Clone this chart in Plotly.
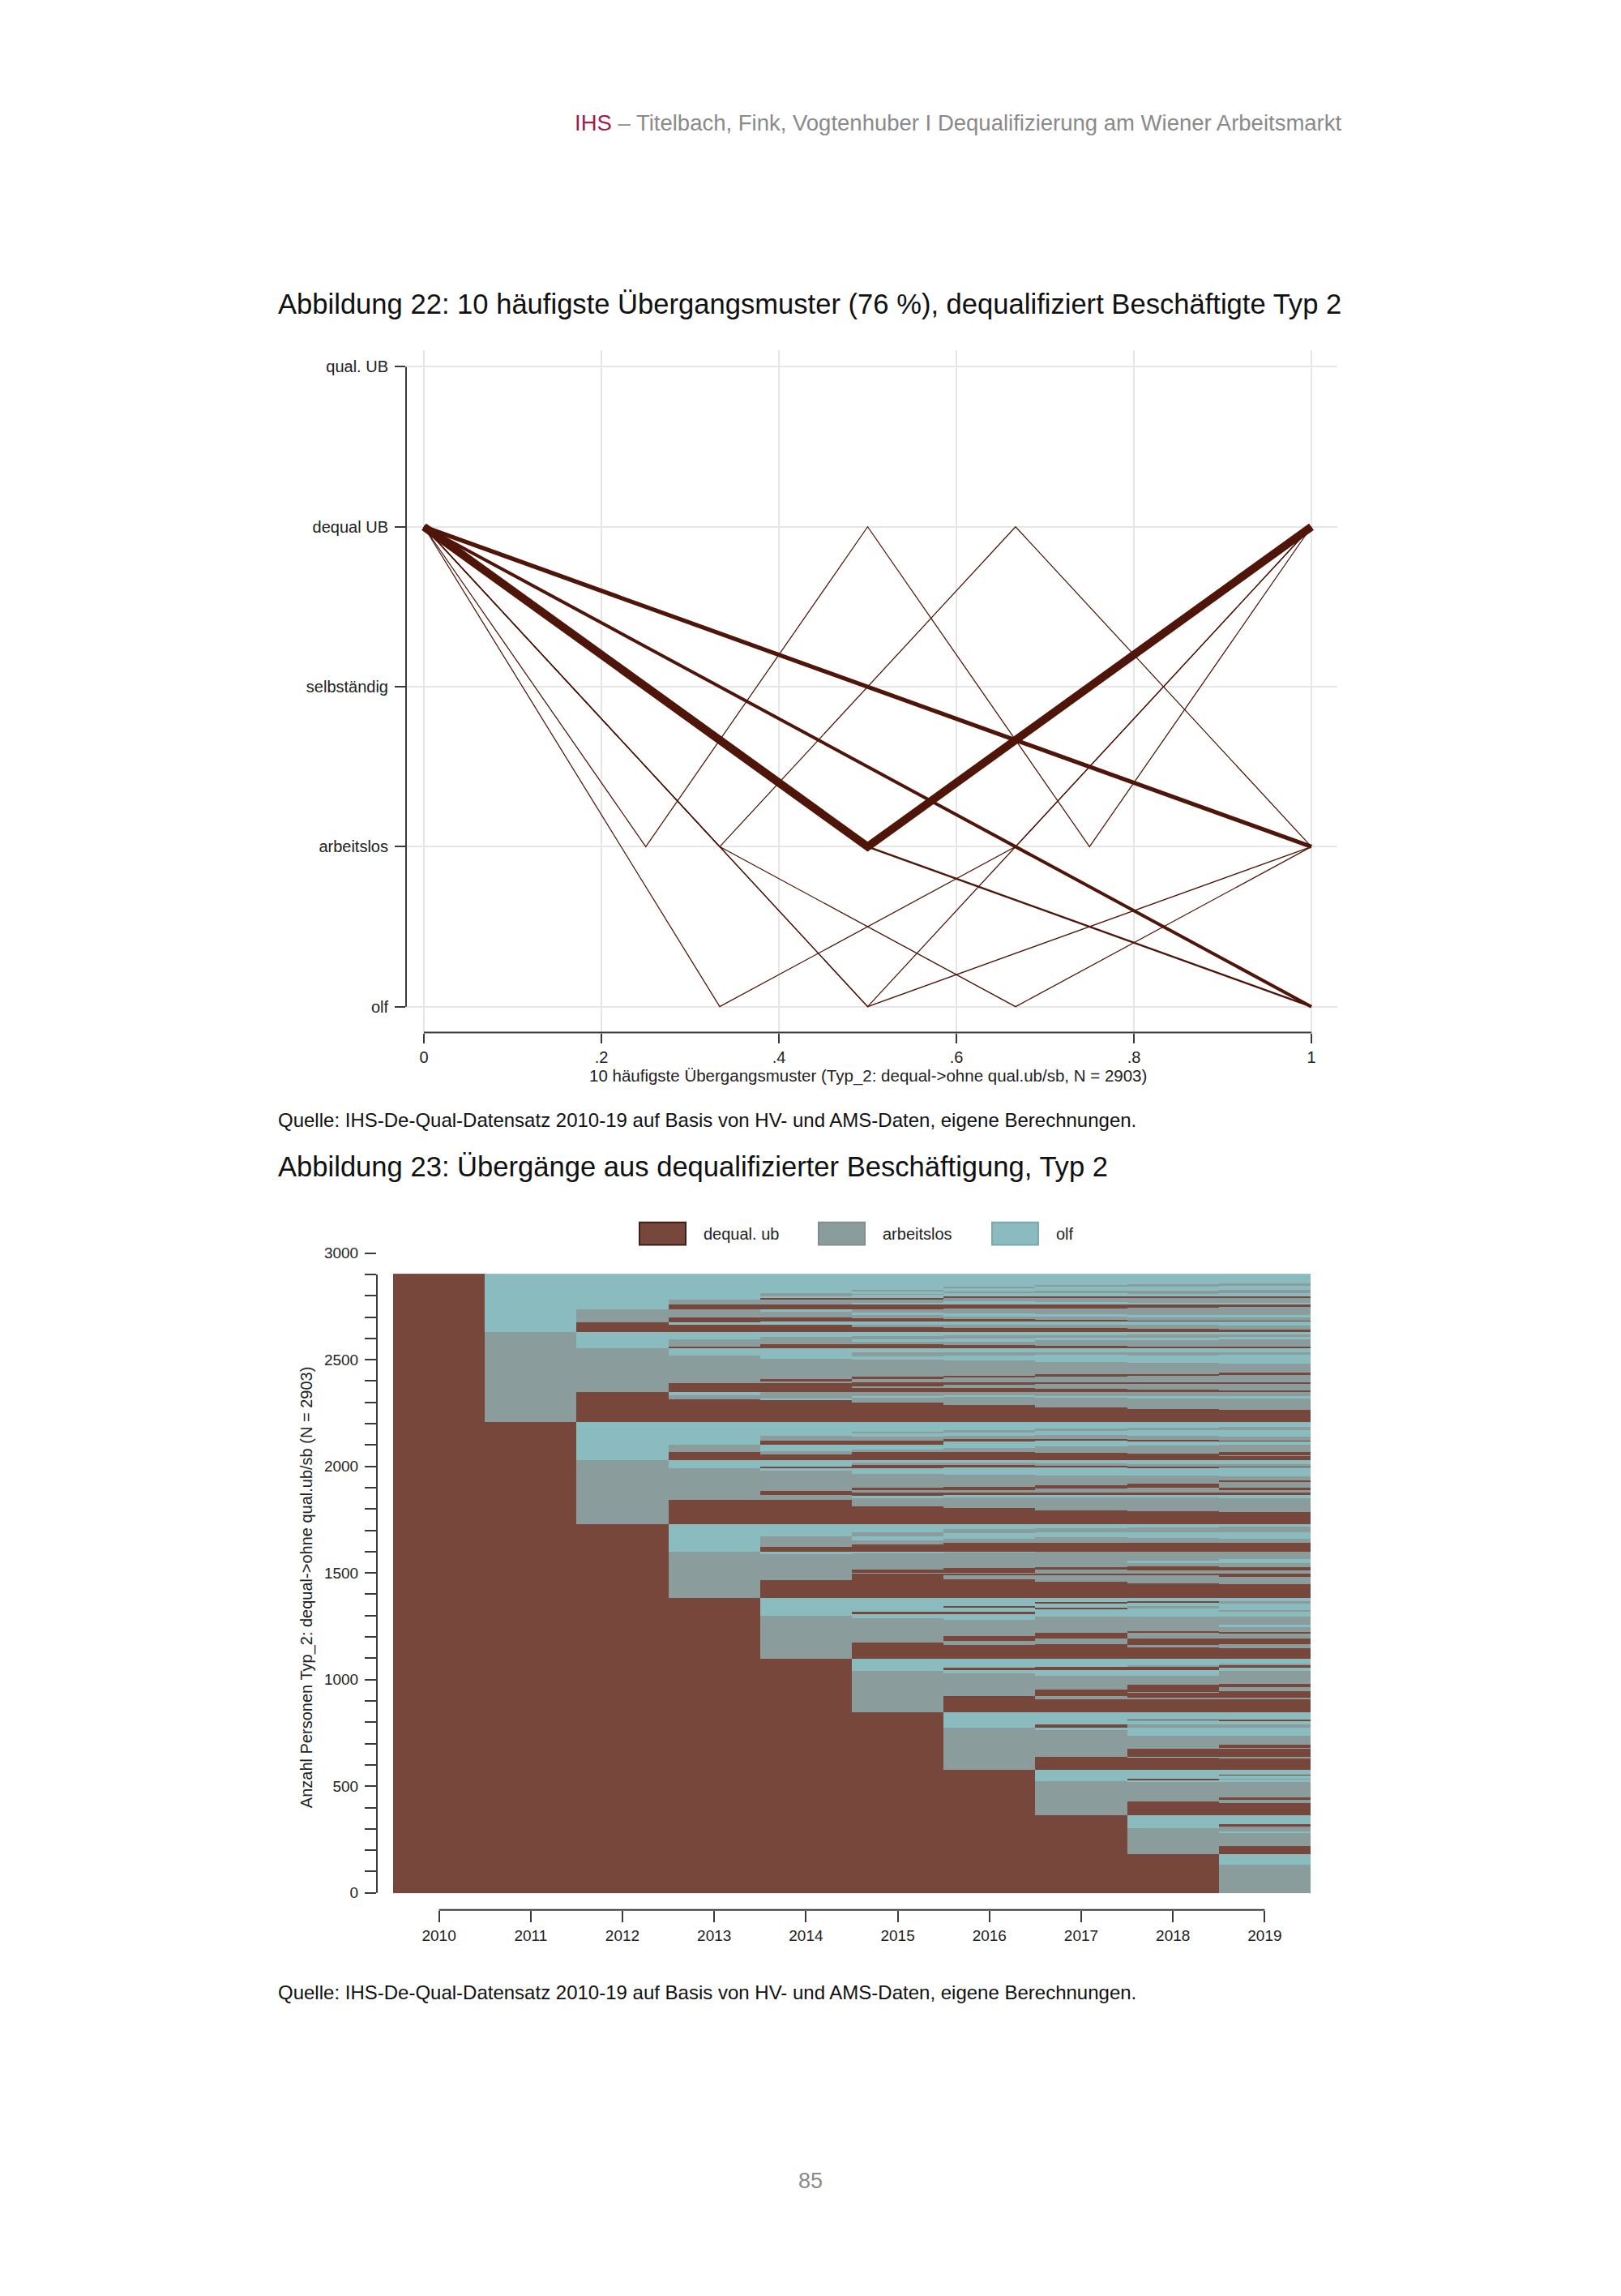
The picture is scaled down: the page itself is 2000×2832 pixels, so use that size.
import numpy as np
import plotly.graph_objects as go

W, H = 2000, 2832

# ---------------- Abbildung 22: 10 most frequent transition patterns ----------------
level_vals = [1, 2, 3, 4, 5]
level_text = ["olf", "arbeitslos", "selbständig", "dequal UB", "qual. UB"]
x_tickvals = [0, 0.2, 0.4, 0.6, 0.8, 1]
x_ticktext = ["0", ".2", ".4", ".6", ".8", "1"]

# state level (5=qual UB, 4=dequal UB, 3=selbständig, 2=arbeitslos, 1=olf)
pat_a_x = [0, 0.5, 1];            pat_a_y = [4, 2, 4]
pat_b_x = [0, 1];                 pat_b_y = [4, 2]
pat_c_x = [0, 1];                 pat_c_y = [4, 1]
pat_d_x = [0, 0.5, 1];            pat_d_y = [4, 2, 1]
pat_e_x = [0, 0.5, 1];            pat_e_y = [4, 1, 2]
pat_f_x = [0, 0.5, 1];            pat_f_y = [4, 1, 4]
pat_g_x = [0, 1/3, 2/3, 1];       pat_g_y = [4, 2, 4, 2]
pat_h_x = [0, 1/3, 2/3, 1];       pat_h_y = [4, 2, 1, 2]
pat_i_x = [0, 1/3, 2/3, 1];       pat_i_y = [4, 1, 2, 4]
pat_j_x = [0, 0.25, 0.5, 0.75, 1]; pat_j_y = [4, 2, 4, 2, 4]

patterns_x = [pat_a_x, pat_b_x, pat_c_x, pat_d_x, pat_e_x, pat_f_x, pat_g_x, pat_h_x, pat_i_x, pat_j_x]
patterns_y = [pat_a_y, pat_b_y, pat_c_y, pat_d_y, pat_e_y, pat_f_y, pat_g_y, pat_h_y, pat_i_y, pat_j_y]
pattern_width = [10, 5.2, 4.0, 2.4, 1.3, 1.3, 1.25, 1.25, 1.25, 1.25]

# ---------------- Abbildung 23: sequence index plot (segments: top value, state) ----------------
years = [2010, 2011, 2012, 2013, 2014, 2015, 2016, 2017, 2018, 2019]
n_persons = 2903
state_names = ["dequal. ub", "arbeitslos", "olf"]

y2010 = [(2903, "D")]
y2011 = [(2903, "O"), (2630, "A"), (2207, "D")]
y2012 = [(2903, "O"), (2737, "A"), (2674, "D"), (2630, "O"), (2555, "A"), (2347, "D"),
         (2207, "O"), (2030, "A"), (1730, "D")]
y2013 = [(2903, "O"), (2783, "A"), (2760, "D"), (2737, "A"), (2697, "D"), (2676, "O"), (2665, "D"),
         (2630, "O"), (2596, "A"), (2563, "D"), (2555, "O"), (2520, "A"), (2391, "D"), (2347, "O"),
         (2333, "A"), (2314, "D"), (2207, "O"), (2101, "A"), (2066, "D"), (2030, "O"), (1992, "A"),
         (1844, "D"), (1731, "O"), (1601, "A"), (1383, "D")]
y2014 = [(2903, "O"), (2813, "A"), (2798, "O"), (2788, "D"), (2780, "A"), (2760, "D"), (2737, "O"),
         (2725, "A"), (2697, "D"), (2678, "O"), (2665, "D"),
         (2630, "O"), (2606, "A"), (2571, "D"), (2555, "O"), (2505, "A"), (2409, "D"), (2399, "A"),
         (2391, "D"), (2347, "A"), (2318, "O"), (2309, "D"),
         (2207, "O"), (2144, "A"), (2119, "D"), (2103, "O"), (2073, "A"), (2057, "D"),
         (2030, "O"), (2000, "D"), (1992, "O"), (1980, "A"), (1886, "D"), (1866, "A"), (1844, "D"),
         (1731, "O"), (1674, "A"), (1623, "D"), (1601, "O"), (1588, "A"), (1466, "D"),
         (1383, "O"), (1301, "A"), (1099, "D")]
y2015 = [(2903, "O"), (2826, "A"), (2818, "O"), (2810, "A"), (2803, "O"), (2788, "D"), (2780, "A"),
         (2768, "O"), (2760, "D"), (2737, "A"), (2720, "O"), (2710, "A"), (2695, "D"), (2678, "O"),
         (2665, "A"), (2653, "D"),
         (2630, "O"), (2611, "A"), (2596, "O"), (2586, "A"), (2571, "D"), (2555, "O"), (2533, "A"),
         (2514, "O"), (2501, "A"), (2419, "D"), (2409, "A"), (2394, "D"), (2375, "A"), (2366, "D"),
         (2347, "A"), (2331, "O"), (2321, "A"), (2299, "D"),
         (2207, "O"), (2164, "A"), (2154, "O"), (2139, "A"), (2122, "D"), (2103, "O"), (2078, "A"),
         (2066, "D"),
         (2030, "O"), (2018, "A"), (2005, "D"), (1992, "O"), (1964, "A"), (1901, "D"), (1889, "A"),
         (1876, "D"), (1863, "O"), (1851, "A"), (1813, "D"),
         (1731, "O"), (1693, "A"), (1674, "O"), (1655, "A"), (1636, "D"), (1601, "O"), (1592, "A"),
         (1516, "D"), (1503, "A"), (1497, "D"),
         (1383, "O"), (1320, "D"), (1307, "O"), (1288, "A"), (1175, "D"), (1099, "O"), (1042, "A"),
         (846, "D")]
y2016 = [(2903, "O"), (2842, "A"), (2836, "O"), (2821, "A"), (2813, "O"), (2796, "D"), (2788, "A"),
         (2773, "O"), (2760, "D"), (2741, "A"), (2716, "O"), (2703, "A"), (2691, "D"), (2678, "O"),
         (2665, "A"), (2649, "D"),
         (2630, "O"), (2614, "A"), (2599, "O"), (2583, "A"), (2568, "D"), (2555, "O"), (2535, "A"),
         (2520, "O"), (2495, "A"), (2425, "D"), (2417, "A"), (2396, "D"), (2381, "A"), (2369, "D"),
         (2347, "A"), (2333, "O"), (2324, "A"), (2287, "D"),
         (2207, "O"), (2169, "A"), (2160, "O"), (2144, "A"), (2129, "D"), (2116, "O"), (2088, "A"),
         (2066, "D"),
         (2030, "O"), (2018, "A"), (2005, "D"), (1995, "O"), (1962, "A"), (1904, "D"), (1889, "A"),
         (1879, "D"), (1866, "O"), (1853, "A"), (1807, "D"),
         (1731, "O"), (1706, "A"), (1687, "O"), (1661, "A"), (1642, "D"), (1601, "O"), (1596, "A"),
         (1525, "D"), (1503, "A"), (1497, "D"), (1491, "A"), (1472, "D"),
         (1383, "O"), (1345, "D"), (1339, "O"), (1320, "D"), (1307, "O"), (1282, "A"), (1206, "D"),
         (1181, "A"), (1162, "D"),
         (1099, "O"), (1055, "D"), (1047, "O"), (1029, "A"), (922, "D"), (846, "O"), (777, "A"),
         (577, "D")]
y2017 = [(2903, "O"), (2849, "A"), (2841, "O"), (2823, "A"), (2811, "O"), (2796, "D"), (2788, "A"),
         (2770, "O"), (2758, "D"), (2741, "A"), (2712, "O"), (2702, "A"), (2687, "D"), (2678, "O"),
         (2665, "A"), (2647, "D"),
         (2630, "O"), (2615, "A"), (2602, "O"), (2590, "A"), (2566, "D"), (2555, "O"), (2533, "A"),
         (2523, "O"), (2489, "A"), (2432, "D"), (2422, "A"), (2396, "D"), (2386, "A"), (2362, "D"),
         (2347, "A"), (2331, "O"), (2321, "A"), (2278, "D"),
         (2207, "O"), (2179, "A"), (2167, "O"), (2148, "A"), (2129, "D"), (2119, "O"), (2093, "A"),
         (2063, "D"),
         (2030, "O"), (2015, "A"), (2002, "D"), (1995, "O"), (1958, "A"), (1911, "D"), (1895, "A"),
         (1879, "D"), (1866, "O"), (1853, "A"), (1794, "D"),
         (1731, "O"), (1712, "A"), (1693, "O"), (1668, "A"), (1642, "D"), (1601, "A"), (1529, "D"),
         (1516, "A"), (1497, "D"), (1491, "A"), (1459, "D"),
         (1383, "O"), (1364, "D"), (1358, "O"), (1339, "D"), (1330, "O"), (1295, "A"), (1219, "D"),
         (1194, "A"), (1168, "D"),
         (1099, "O"), (1061, "D"), (1045, "O"), (1017, "A"), (954, "D"), (922, "A"), (909, "D"),
         (846, "O"), (789, "D"), (777, "O"), (764, "A"), (640, "D"), (577, "O"), (524, "A"),
         (366, "D")]
y2018 = [(2903, "O"), (2854, "A"), (2844, "O"), (2823, "A"), (2808, "O"), (2796, "D"), (2788, "A"),
         (2767, "O"), (2758, "D"), (2745, "A"), (2710, "O"), (2700, "A"), (2684, "D"), (2678, "O"),
         (2665, "A"), (2644, "D"),
         (2630, "O"), (2619, "A"), (2602, "O"), (2593, "A"), (2563, "D"), (2555, "O"), (2535, "A"),
         (2520, "O"), (2485, "A"), (2434, "D"), (2425, "A"), (2396, "D"), (2386, "A"), (2359, "D"),
         (2347, "A"), (2331, "O"), (2318, "A"), (2270, "D"),
         (2207, "O"), (2182, "A"), (2169, "O"), (2144, "A"), (2126, "D"), (2116, "O"), (2097, "A"),
         (2059, "D"),
         (2030, "O"), (2012, "A"), (2000, "D"), (1992, "O"), (1958, "A"), (1920, "D"), (1899, "A"),
         (1879, "D"), (1866, "O"), (1853, "A"), (1790, "D"),
         (1731, "O"), (1714, "A"), (1693, "O"), (1664, "A"), (1642, "D"), (1601, "A"), (1560, "O"),
         (1548, "A"), (1533, "D"), (1512, "A"), (1497, "D"), (1489, "A"), (1453, "D"),
         (1383, "O"), (1368, "D"), (1360, "O"), (1345, "A"), (1335, "O"), (1295, "A"), (1229, "D"),
         (1219, "A"), (1194, "D"), (1162, "A"), (1153, "D"),
         (1099, "O"), (1067, "A"), (1061, "D"), (1047, "O"), (1017, "A"), (976, "D"), (944, "A"),
         (939, "D"), (916, "A"), (909, "D"),
         (846, "O"), (815, "D"), (808, "O"), (789, "A"), (777, "O"), (739, "A"), (678, "D"),
         (640, "O"), (635, "D"),
         (577, "O"), (537, "D"), (529, "O"), (522, "A"), (430, "D"), (366, "O"), (303, "A"),
         (183, "D")]
y2019 = [(2903, "O"), (2859, "A"), (2846, "O"), (2826, "A"), (2811, "O"), (2798, "D"), (2791, "A"),
         (2767, "O"), (2760, "D"), (2747, "A"), (2710, "O"), (2697, "A"), (2684, "D"), (2678, "O"),
         (2662, "A"), (2641, "D"),
         (2630, "O"), (2619, "A"), (2606, "O"), (2596, "A"), (2563, "D"), (2555, "O"), (2533, "A"),
         (2523, "O"), (2482, "A"), (2438, "D"), (2429, "A"), (2396, "D"), (2386, "A"), (2356, "D"),
         (2347, "A"), (2331, "O"), (2318, "A"), (2264, "D"),
         (2207, "O"), (2184, "A"), (2169, "O"), (2141, "A"), (2122, "D"), (2116, "O"), (2101, "A"),
         (2066, "D"), (2053, "A"), (2047, "D"),
         (2030, "O"), (2009, "A"), (2000, "D"), (1995, "O"), (1954, "A"), (1933, "D"), (1927, "A"),
         (1901, "D"), (1889, "A"), (1876, "D"), (1866, "O"), (1851, "A"), (1785, "D"),
         (1731, "O"), (1718, "A"), (1693, "O"), (1661, "A"), (1642, "D"), (1601, "A"), (1567, "O"),
         (1548, "A"), (1529, "D"), (1512, "A"), (1497, "D"), (1484, "A"), (1447, "D"),
         (1383, "O"), (1370, "A"), (1358, "O"), (1326, "A"), (1320, "O"), (1295, "A"), (1257, "O"),
         (1247, "A"), (1225, "D"), (1216, "A"), (1194, "D"), (1168, "A"), (1149, "D"),
         (1099, "O"), (1074, "A"), (1067, "D"), (1057, "O"), (1042, "A"), (979, "D"), (966, "A"),
         (947, "D"), (918, "A"), (909, "D"),
         (846, "O"), (815, "D"), (805, "O"), (789, "A"), (777, "O"), (739, "A"), (695, "D"),
         (682, "A"), (676, "D"), (640, "A"), (633, "D"),
         (577, "O"), (556, "D"), (550, "O"), (537, "A"), (531, "O"), (522, "A"), (448, "D"),
         (438, "A"), (423, "D"), (366, "O"), (322, "D"), (312, "A"), (291, "O"), (282, "A"),
         (221, "D"), (183, "O"), (133, "A")]

year_segments = [y2010, y2011, y2012, y2013, y2014, y2015, y2016, y2017, y2018, y2019]

y2_tickvals = list(range(0, 3001, 100))
y2_ticktext = [str(v) if v % 500 == 0 else "" for v in y2_tickvals]

# ---------------- styles ----------------
LINE_COL = "#4e1508"
GRID_COL = "#e6e6e6"
AX_COL = "#3a3a3a"
C_DEQ, C_AL, C_OLF = "#76473a", "#8a9c9c", "#8abbbe"
PAGE_FONT = "Liberation Sans, Arial, sans-serif"
CHART_FONT = "Liberation Sans, Arial, sans-serif"

DX = -10  # horizontal page offset compensation


def px_x(p):
    return (p + DX) / W


def px_y(p):
    return 1 - p / H


fig = go.Figure()

# Figure 22 lines (thin first, thick on top)
order = sorted(range(len(patterns_x)), key=lambda i: pattern_width[i])
for i in order:
    fig.add_trace(go.Scatter(
        x=patterns_x[i], y=patterns_y[i], mode="lines",
        line=dict(color=LINE_COL, width=pattern_width[i]),
        xaxis="x", yaxis="y", hoverinfo="skip", showlegend=False))

# Figure 23 heatmap
code = {"D": 0, "A": 1, "O": 2}
rows = np.arange(n_persons) + 0.5
z = np.zeros((n_persons, len(years)))
for j, segs in enumerate(year_segments):
    for k, (top, st) in enumerate(segs):
        bottom = segs[k + 1][0] if k + 1 < len(segs) else 0
        z[(rows >= bottom) & (rows < top), j] = code[st]

fig.add_trace(go.Heatmap(
    x=years, y=rows, z=z, zmin=-0.5, zmax=2.5, showscale=False,
    colorscale=[[0, C_DEQ], [1/3, C_DEQ], [1/3, C_AL], [2/3, C_AL], [2/3, C_OLF], [1, C_OLF]],
    xaxis="x2", yaxis="y2", hoverinfo="skip", zsmooth=False))

# ---------------- axes geometry (pixels) ----------------
TY = -13  # vertical correction for Fig 22
x_unit = 1095.0
y_unit = 198.0
ax1_left, ax1_right = 503, 1652
ax1_top, ax1_bottom = 428 + TY, 1273 + TY
lvl5_px, lvl1_px = 449 + TY, 1241 + TY
x1_range = [(ax1_left - 525) / x_unit, 1 + (ax1_right - 1620) / x_unit]
y1_range = [1 - (ax1_bottom - lvl1_px) / y_unit, 5 + (lvl5_px - ax1_top) / y_unit]

BY = -10  # vertical correction for Fig 23
col_w = 113.2
ppu = 0.264
ax2_left, ax2_right = 467, 1640
ax2_top, ax2_bottom = 1543 + BY, 2356 + BY
zero_px = 2335 + BY
x2_range = [2009.5 - (487 - ax2_left) / col_w, 2009.5 + (ax2_right - 487) / col_w]
y2_range = [-(ax2_bottom - zero_px) / ppu, 3000]

tick_font = dict(family=CHART_FONT, size=20, color="#222222")

fig.update_layout(
    width=W, height=H, margin=dict(l=0, r=0, t=0, b=0),
    paper_bgcolor="white", plot_bgcolor="white", showlegend=False,
    xaxis=dict(domain=[px_x(ax1_left), px_x(ax1_right)], range=x1_range,
               tickvals=x_tickvals, ticktext=x_ticktext, showgrid=True, gridcolor=GRID_COL,
               gridwidth=2, zeroline=False, showline=False, ticks="outside", ticklen=12,
               tickwidth=2, tickcolor=AX_COL, tickfont=tick_font, ticklabelstandoff=0,
               anchor="y", fixedrange=True),
    yaxis=dict(domain=[px_y(ax1_bottom), px_y(ax1_top)], range=y1_range,
               tickvals=level_vals, ticktext=level_text, showgrid=True, gridcolor=GRID_COL,
               gridwidth=2, zeroline=False, showline=False, ticks="outside", ticklen=13,
               tickwidth=2, tickcolor=AX_COL, tickfont=tick_font, ticklabelstandoff=4,
               anchor="x", fixedrange=True),
    xaxis2=dict(domain=[px_x(ax2_left), px_x(ax2_right)], range=x2_range,
                tickvals=years, ticktext=[str(y) for y in years], showgrid=False,
                zeroline=False, showline=False, ticks="outside", ticklen=14, tickwidth=2,
                tickcolor=AX_COL, tickfont=dict(family=CHART_FONT, size=19, color="#222222"),
                ticklabelstandoff=0, anchor="y2", fixedrange=True),
    yaxis2=dict(domain=[px_y(ax2_bottom), px_y(ax2_top)], range=y2_range,
                tickvals=y2_tickvals, ticktext=y2_ticktext, showgrid=False, zeroline=False,
                showline=False, ticks="outside", ticklen=14, tickwidth=2, tickcolor=AX_COL,
                tickfont=dict(family=CHART_FONT, size=19, color="#222222"),
                ticklabelstandoff=4, anchor="x2", fixedrange=True),
)

shapes = []
# axis lines Fig 22 (span from first to last tick, Stata style)
shapes.append(dict(type="line", xref="paper", yref="y", x0=px_x(ax1_left), x1=px_x(ax1_left),
                   y0=level_vals[0], y1=level_vals[-1], line=dict(color=AX_COL, width=2)))
shapes.append(dict(type="line", xref="x", yref="paper", x0=x_tickvals[0], x1=x_tickvals[-1],
                   y0=px_y(ax1_bottom), y1=px_y(ax1_bottom), line=dict(color=AX_COL, width=2)))
# axis lines Fig 23
shapes.append(dict(type="line", xref="paper", yref="y2", x0=px_x(ax2_left), x1=px_x(ax2_left),
                   y0=0, y1=2900, line=dict(color=AX_COL, width=2)))
shapes.append(dict(type="line", xref="x2", yref="paper", x0=years[0], x1=years[-1],
                   y0=px_y(ax2_bottom), y1=px_y(ax2_bottom), line=dict(color=AX_COL, width=2)))

# legend for Fig 23
LEG_Y = 1509
leg_boxes = [(791, C_DEQ, "#3b2018"), (1012, C_AL, "#7d8f8f"), (1226, C_OLF, "#7aa9ac")]
for (bx, fc, lc), name in zip(leg_boxes, state_names):
    shapes.append(dict(type="rect", xref="paper", yref="paper", x0=px_x(bx), x1=px_x(bx + 57),
                       y0=px_y(LEG_Y + 14), y1=px_y(LEG_Y - 14), fillcolor=fc,
                       line=dict(color=lc, width=2)))

annotations = []
for (bx, fc, lc), name in zip(leg_boxes, state_names):
    annotations.append(dict(xref="paper", yref="paper", x=px_x(bx + 77), y=px_y(LEG_Y),
                            text=name, showarrow=False, xanchor="left", yanchor="middle",
                            font=dict(family=CHART_FONT, size=20, color="#222222")))

# axis titles
annotations.append(dict(xref="x", yref="paper", x=0.5, y=px_y(1327 + TY),
                        text="10 häufigste Übergangsmuster (Typ_2: dequal->ohne qual.ub/sb, N = 2903)",
                        showarrow=False, xanchor="center", yanchor="middle",
                        font=dict(family=CHART_FONT, size=20.5, color="#222222")))
annotations.append(dict(xref="paper", yref="paper", x=px_x(380), y=px_y(1957 + BY),
                        text="Anzahl Personen Typ_2: dequal->ohne qual.ub/sb (N = 2903)",
                        showarrow=False, textangle=-90, xanchor="center", yanchor="middle",
                        font=dict(family=CHART_FONT, size=20, color="#222222")))

# page texts
annotations.append(dict(xref="paper", yref="paper", x=px_x(1660), y=px_y(134),
                        text="<span style='color:#a01e4c'>IHS</span> – Titelbach, Fink, Vogtenhuber I Dequalifizierung am Wiener Arbeitsmarkt",
                        showarrow=False, xanchor="right", yanchor="middle",
                        font=dict(family=PAGE_FONT, size=27.5, color="#8a8a8a")))
annotations.append(dict(xref="paper", yref="paper", x=px_x(343), y=px_y(358),
                        text="Abbildung 22: 10 häufigste Übergangsmuster (76 %), dequalifiziert Beschäftigte Typ 2",
                        showarrow=False, xanchor="left", yanchor="middle",
                        font=dict(family=PAGE_FONT, size=34.6, color="#111111")))
annotations.append(dict(xref="paper", yref="paper", x=px_x(343), y=px_y(1368),
                        text="Quelle: IHS-De-Qual-Datensatz 2010-19 auf Basis von HV- und AMS-Daten, eigene Berechnungen.",
                        showarrow=False, xanchor="left", yanchor="middle",
                        font=dict(family=PAGE_FONT, size=24, color="#111111")))
annotations.append(dict(xref="paper", yref="paper", x=px_x(343), y=px_y(1426),
                        text="Abbildung 23: Übergänge aus dequalifizierter Beschäftigung, Typ 2",
                        showarrow=False, xanchor="left", yanchor="middle",
                        font=dict(family=PAGE_FONT, size=34.6, color="#111111")))
annotations.append(dict(xref="paper", yref="paper", x=px_x(343), y=px_y(2448),
                        text="Quelle: IHS-De-Qual-Datensatz 2010-19 auf Basis von HV- und AMS-Daten, eigene Berechnungen.",
                        showarrow=False, xanchor="left", yanchor="middle",
                        font=dict(family=PAGE_FONT, size=24, color="#111111")))
annotations.append(dict(xref="paper", yref="paper", x=px_x(1002), y=px_y(2681),
                        text="85", showarrow=False, xanchor="center", yanchor="middle",
                        font=dict(family=PAGE_FONT, size=27, color="#8a8a8a")))

fig.update_layout(shapes=shapes, annotations=annotations)
fig.write_html("out.html")
